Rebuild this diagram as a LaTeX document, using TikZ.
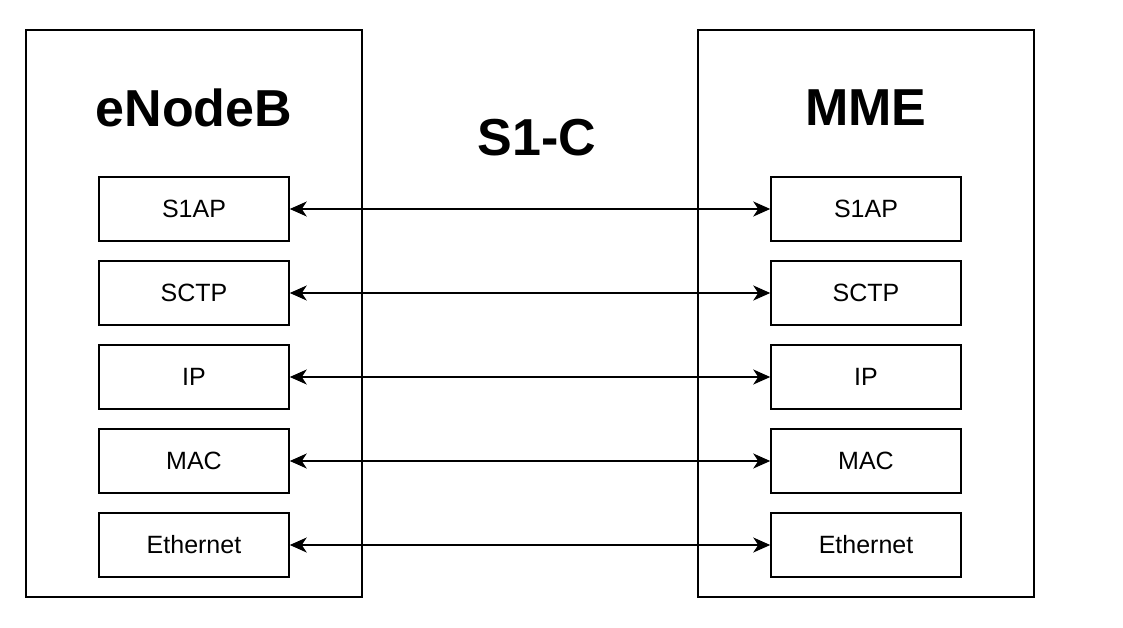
\documentclass[tikz,border=0pt]{standalone}
\usepackage{fontspec}
\setmainfont{Liberation Sans}
\usetikzlibrary{arrows.meta}
\begin{document}
\begin{tikzpicture}[x=1pt,y=-1pt,
  outer/.style={draw, line width=1.5pt, minimum width=336pt, minimum height=567pt, inner sep=0pt},
  layer/.style={draw, line width=1.5pt, minimum width=190pt, minimum height=64pt, inner sep=0pt, font=\fontsize{25}{29}\selectfont},
  title/.style={font=\fontsize{52}{60}\selectfont\bfseries, inner sep=0pt},
  link/.style={line width=2pt, {Stealth[length=17pt,width=15pt,inset=5pt]}-{Stealth[length=17pt,width=15pt,inset=5pt]}}]
\useasboundingbox (0,0) rectangle (1123,628);
\node[outer] (enb) at (194,313.5) {};
\node[outer] (mme) at (866,313.5) {};
\node[title] (tenb) at (194,108) {eNodeB};
\node[title] (tmme) at (866,108) {MME};
\node[title] (s1c) at (537,138) {S1-C};
\foreach \n/\t [count=\i] in {s1ap/S1AP, sctp/SCTP, ip/IP, mac/MAC, eth/Ethernet}{
  \node[layer] (l\n) at (194,{209+84*(\i-1)}) {\t};
  \node[layer] (r\n) at (866,{209+84*(\i-1)}) {\t};
  \draw[link] (l\n.east) -- (r\n.west);
}
\end{tikzpicture}
\end{document}
